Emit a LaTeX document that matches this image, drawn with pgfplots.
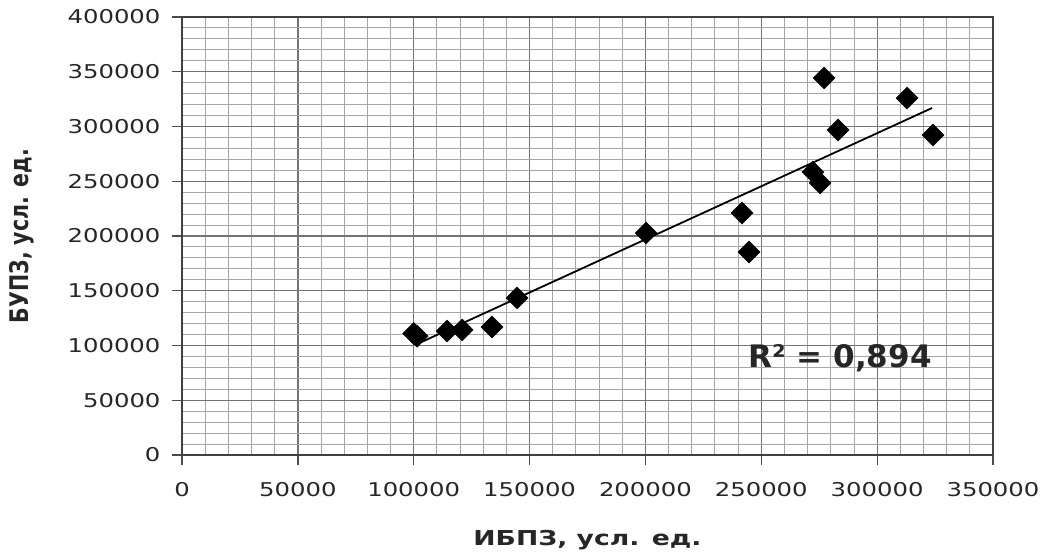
\documentclass[border=0pt]{standalone}
\usepackage{fontspec}
\setmainfont{DejaVu Sans}
\usepackage{graphicx}
\usepackage{pgfplots}
\pgfplotsset{compat=1.18}
\begin{document}
\begin{tikzpicture}
\begin{axis}[
  at={(0,0)}, anchor=south west,
  width=811pt, height=438pt, scale only axis,
  xmin=0, xmax=350000, ymin=0, ymax=400000,
  xtick={0,50000,...,350000}, ytick={0,50000,...,400000},
  minor x tick num=4, minor y tick num=4,
  grid=both,
  major grid style={black!55, line width=1.3pt},
  minor grid style={black!35, line width=0.9pt},
  axis line style={black!75, line width=1.5pt},
  tick align=outside, tickpos=left,
  major tick length=10pt, minor tick length=0pt,
  major tick style={black!70, line width=1.3pt},
  scaled ticks=false,
  xticklabel={\scalebox{1.28}[1]{\pgfmathprintnumber[assume math mode=true,fixed,1000 sep={}]{\tick}}},
  yticklabel={\scalebox{1.28}[1]{\pgfmathprintnumber[assume math mode=true,fixed,1000 sep={}]{\tick}}},
  tick label style={font=\fontsize{19}{19}\selectfont, text=black!85},
  xticklabel style={yshift=-14pt},
  yticklabel style={xshift=-8pt},
  xlabel={\scalebox{1.3}[1]{ИБПЗ, усл. ед.}},
  ylabel={\scalebox{1}[1.25]{БУПЗ, усл. ед.}},
  label style={font=\fontsize{20.5}{20.5}\selectfont\bfseries, text=black!85},
  xlabel style={at={(axis description cs:0.5,-0.194)}, anchor=center},
  ylabel style={at={(axis description cs:-0.197,0.5)}, anchor=center},
]
\addplot[only marks, mark=square*, mark size=7.8pt, mark options={rotate=45, fill=black, draw=black}]
  coordinates {
  (100000,111000) (101500,108500)
  (114400,113200) (120900,114200) (133800,116900) (144600,143400)
  (200300,202700) (241700,221000) (244700,185400)
  (272300,258400) (275400,248400) (277100,344300) (283100,296800)
  (312900,326000) (324100,292200)
  };
\addplot[black, line width=1.8pt] coordinates {(100560,100450) (323700,316900)};
\node[font=\fontsize{31}{31}\selectfont\bfseries, text=black!85] at (axis cs:284000,88600) {R² = 0,894};
\end{axis}
\pgfresetboundingbox
\path (-182pt,-98pt) rectangle (866pt,455pt);
\end{tikzpicture}
\end{document}
